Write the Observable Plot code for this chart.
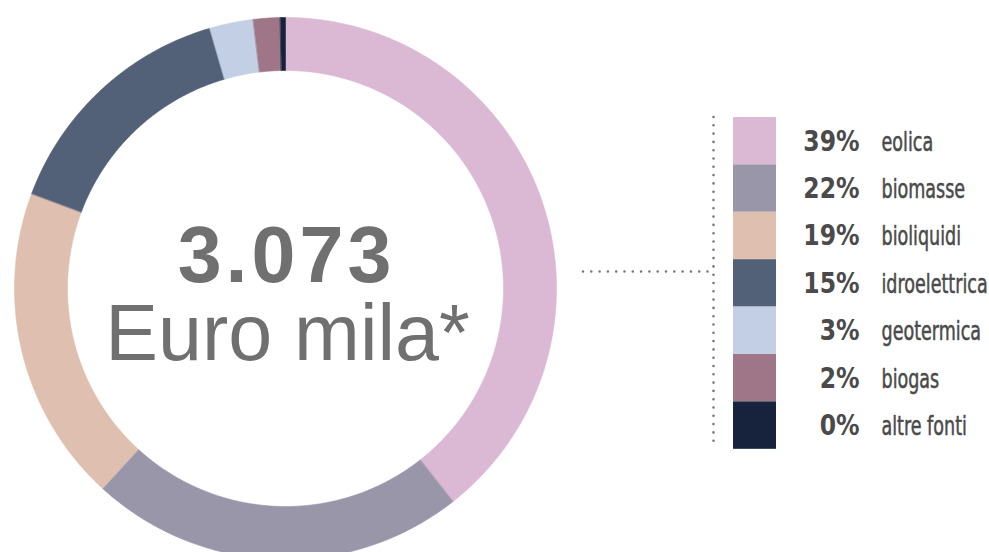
<!DOCTYPE html>
<html>
<head>
<meta charset="utf-8">
<script src="https://cdn.jsdelivr.net/npm/d3@7"></script>
<script src="https://cdn.jsdelivr.net/npm/@observablehq/plot@0.6"></script>
<style>
  html, body { margin: 0; padding: 0; background: #ffffff; }
  #chart svg { display: block; }
</style>
</head>
<body>
<div id="chart"></div>
<script>
// ---- data ----
const categories = ["eolica", "biomasse", "bioliquidi", "idroelettrica", "geotermica", "biogas", "altre fonti"];
const shares = [39.4, 22.4, 18.9, 14.8, 2.6, 1.6, 0.3];
const colors = ["#dbb8d3", "#9a96a9", "#dfc0b0", "#536178", "#c2cfe4", "#9e7687", "#17233d"];
const totalLabel = "3.073";
const unitLabel = "Euro mila*";

// ---- layout ----
const W = 989, H = 552;
const cx = 285, cy = 288, R = 271, r = 218;
const legTop = 117, rowH = 47.4, swX1 = 733, swX2 = 776;
const pctX = 859, labX = 881;
const vLineX = 713, hLineY = 271, hLineX1 = 583;

// slice polygons
const total = d3.sum(shares);
const slices = [];
let acc = 0;
categories.forEach((c, i) => {
  const a0 = acc / total * 2 * Math.PI;
  acc += shares[i];
  const a1 = acc / total * 2 * Math.PI;
  const n = Math.max(2, Math.ceil((a1 - a0) / (Math.PI / 360)));
  const pts = [];
  for (let k = 0; k <= n; k++) {
    const a = a0 + (a1 - a0) * k / n;
    pts.push({x: cx + R * Math.sin(a), y: cy - R * Math.cos(a)});
  }
  for (let k = n; k >= 0; k--) {
    const a = a0 + (a1 - a0) * k / n;
    pts.push({x: cx + r * Math.sin(a), y: cy - r * Math.cos(a)});
  }
  slices.push({cat: c, color: colors[i], pts});
});

const legend = categories.map((c, i) => ({
  cat: c,
  color: colors[i],
  pct: d3.format(".0f")(shares[i]) + "%",
  y1: legTop + i * rowH,
  y2: legTop + (i + 1) * rowH,
  base: legTop + i * rowH + 33
}));

const condensed = "'DejaVu Sans Condensed', 'DejaVu Sans', sans-serif";

const plot = Plot.plot({
  width: W,
  height: H,
  margin: 0,
  x: {domain: [0, W], range: [0, W], axis: null},
  y: {domain: [0, H], range: [0, H], axis: null},
  marks: [
    ...slices.map(s => Plot.line(s.pts, {x: "x", y: "y", fill: s.color, stroke: s.color, strokeWidth: 0.6, curve: "linear-closed"})),
    Plot.text([totalLabel], {x: () => cx + 1, y: () => 281, text: d => d, fontSize: 79, fontWeight: "bold", fill: "#707070", textAnchor: "middle", lineAnchor: "bottom", fontFamily: "'Liberation Sans', Arial, sans-serif"}),
    Plot.text([unitLabel], {x: () => cx + 2, y: () => 359, text: d => d, fontSize: 79, fill: "#707070", textAnchor: "middle", lineAnchor: "bottom", fontFamily: "'Liberation Sans', Arial, sans-serif"}),
    Plot.ruleY([hLineY], {x1: hLineX1, x2: vLineX, stroke: "#777", strokeWidth: 2.6, strokeDasharray: "0 8.3", strokeLinecap: "round"}),
    Plot.ruleX([vLineX], {y1: legTop, y2: 444, stroke: "#777", strokeWidth: 2.6, strokeDasharray: "0 8.3", strokeLinecap: "round"}),
    Plot.rect(legend, {x1: () => swX1, x2: () => swX2, y1: "y1", y2: "y2", fill: "color"}),
    Plot.text(legend, {x: () => pctX, y: "base", text: "pct", fontSize: 29, fontWeight: "bold", fill: "#4a4a4a", textAnchor: "end", lineAnchor: "bottom", fontFamily: condensed}),
    Plot.text(legend, {x: () => labX, y: "base", text: "cat", fontSize: 26, fill: "#4a4a4a", stroke: "#4a4a4a", strokeWidth: 0.5, textAnchor: "start", lineAnchor: "bottom", fontFamily: condensed})
  ]
});
document.getElementById("chart").appendChild(plot);
d3.select(plot).selectAll("text").filter(function() { return this.textContent === totalLabel; }).style("letter-spacing", "4px");

// narrow the legend texts horizontally (condensed look)
const pctSet = new Set(legend.map(d => d.pct));
const catSet = new Set(categories);
d3.select(plot).selectAll("text").each(function() {
  const t = this.textContent;
  let s = null;
  if (pctSet.has(t)) s = 0.9;
  else if (catSet.has(t)) s = 0.75;
  if (s == null) return;
  let tr = this.getAttribute("transform") || "";
  const x = this.getAttribute("x"), y = this.getAttribute("y");
  if (x != null || y != null) {
    tr += ` translate(${x || 0},${y || 0})`;
    this.removeAttribute("x");
    this.removeAttribute("y");
  }
  this.setAttribute("transform", (tr + ` scale(${s},1)`).trim());
});
</script>
</body>
</html>
